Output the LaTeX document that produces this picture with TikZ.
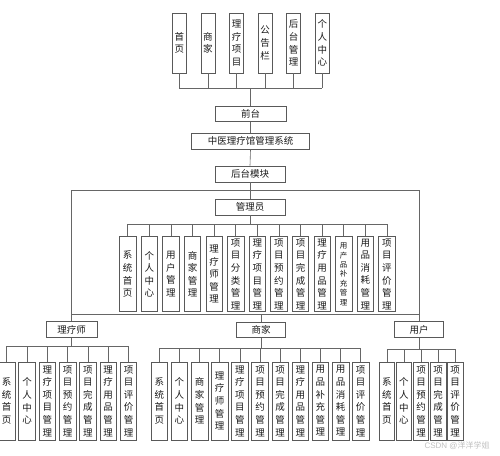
\documentclass[tikz,border=0pt]{standalone}
\usepackage{fontspec}
\setmainfont{Liberation Sans}
\newfontfamily\cjk{Noto Sans CJK SC}

\tikzset{
	box/.style={draw=black!65, line width=0.6pt, align=center, inner sep=0pt},
	topbox/.style={box, minimum width=14pt, minimum height=60pt},
	hbox/.style={box, minimum width=50pt, minimum height=15.5pt},
	adminbox/.style={box, minimum width=16.5pt, minimum height=75pt},
	leafbox/.style={box, minimum width=16.5pt, minimum height=78pt},
	link/.style={draw=black!60, line width=0.6pt}
}
\newcommand\bigcjk{\cjk\fontsize{9.5}{12.6}\selectfont}
\newcommand\smallcjk{\cjk\fontsize{7.5}{9.4}\selectfont}

\begin{document}
\begin{tikzpicture}[x=1pt, y=-1pt,
		every node/.style={font=\bigcjk, text=black!90}]
	\useasboundingbox (0,0) rectangle (500,455);

	% front end
	\coordinate (tbus) at (250,88);
	\foreach \txt [count=\i] in {{首\\页},{商\\家},{理\\疗\\项\\目},{公\\告\\栏},{后\\台\\管\\理},{个\\人\\中\\心}}
		\node [topbox] (t\i) at ({179.3+28.6*(\i-1)},43) {\txt};
	\node [hbox, minimum width=71pt] (qiantai) at (250.5,114) {前台};
	\foreach \i in {1,...,6}
		\draw [link] (t\i.south) -- (t\i.south |- tbus);
	\draw [link] (t1.south |- tbus) -- (t6.south |- tbus);
	\draw [link] (qiantai.north) -- (qiantai.north |- tbus);

	% system and back end
	\node [hbox, minimum width=118pt, minimum height=16pt] (xitong) at (250.5,141.3) {中医理疗馆管理系统};
	\node [hbox, minimum width=70pt, minimum height=16pt] (houtai) at (250,174) {后台模块};
	\node [hbox, minimum width=70pt, minimum height=16pt] (admin) at (250,207) {管理员};
	\draw [link] (qiantai.south) -- (xitong.north);
	\draw [link] (xitong.south) -- (houtai.north);
	\draw [link] (houtai.south) -- (admin.north);

	% roles
	\node [hbox, minimum width=51pt] (liliao) at (71.5,329.5) {理疗师};
	\node [hbox, minimum width=49pt] (shangjia) at (261,330) {商家};
	\node [hbox, minimum width=49pt] (yonghu) at (419,329.5) {用户};
	\coordinate (bbus) at (250,190);
	\coordinate (mbus) at (250,314);
	\draw [link] (liliao.north) -- (liliao.north |- bbus) -- (yonghu.north |- bbus) -- (yonghu.north);
	\draw [link] (liliao.north |- mbus) -- (yonghu.north |- mbus);
	\draw [link] (shangjia.north) -- (shangjia.north |- mbus);

	% admin modules
	\coordinate (abus) at (250,224);
	\foreach \txt/\fnt [count=\i] in {{系\\统\\首\\页}/\bigcjk,{个\\人\\中\\心}/\bigcjk,{用\\户\\管\\理}/\bigcjk,
			{商\\家\\管\\理}/\bigcjk,{理\\疗\\师\\管\\理}/\bigcjk,{项\\目\\分\\类\\管\\理}/\bigcjk,
			{理\\疗\\项\\目\\管\\理}/\bigcjk,{项\\目\\预\\约\\管\\理}/\bigcjk,{项\\目\\完\\成\\管\\理}/\bigcjk,
			{理\\疗\\用\\品\\管\\理}/\bigcjk,{用\\产\\品\\补\\充\\管\\理}/\smallcjk,{用\\品\\消\\耗\\管\\理}/\bigcjk,
			{项\\目\\评\\价\\管\\理}/\bigcjk}
	{
		\node [adminbox, font=\fnt] (a\i) at ({127.7+21.6*(\i-1)},274.2) {\txt};
		\draw [link] (a\i.north) -- (a\i.north |- abus);
	}
	\draw [link] (a1.north |- abus) -- (a13.north |- abus);
	\draw [link] (admin.south) -- (admin.south |- abus);

	% therapist modules
	\coordinate (lbus) at (71,346);
	\foreach \txt [count=\i] in {{系\\统\\首\\页},{个\\人\\中\\心},{理\\疗\\项\\目\\管\\理},{项\\目\\预\\约\\管\\理},
			{项\\目\\完\\成\\管\\理},{理\\疗\\用\\品\\管\\理},{项\\目\\评\\价\\管\\理}}
	{
		\node [leafbox] (l\i) at ({6.7+20.3*(\i-1)},401) {\txt};
		\draw [link] (l\i.north) -- (l\i.north |- lbus);
	}
	\draw [link] (l1.north |- lbus) -- (l7.north |- lbus);
	\draw [link] (liliao.south) -- (liliao.south |- lbus);

	% merchant modules
	\coordinate (sbus) at (261,348);
	\foreach \txt [count=\i] in {{系\\统\\首\\页},{个\\人\\中\\心},{商\\家\\管\\理},{理\\疗\\师\\管\\理},{理\\疗\\项\\目\\管\\理},
			{项\\目\\预\\约\\管\\理},{项\\目\\完\\成\\管\\理},{理\\疗\\用\\品\\管\\理},{用\\品\\补\\充\\管\\理},
			{用\\品\\消\\耗\\管\\理},{项\\目\\评\\价\\管\\理}}
	{
		\node [leafbox] (s\i) at ({159.3+20.14*(\i-1)},401) {\txt};
		\draw [link] (s\i.north) -- (s\i.north |- sbus);
	}
	\draw [link] (s1.north |- sbus) -- (s11.north |- sbus);
	\draw [link] (shangjia.south) -- (shangjia.south |- sbus);

	% user modules
	\coordinate (ubus) at (419,349);
	\foreach \txt [count=\i] in {{系\\统\\首\\页},{个\\人\\中\\心},{项\\目\\预\\约\\管\\理},{项\\目\\完\\成\\管\\理},{项\\目\\评\\价\\管\\理}}
	{
		\node [leafbox, minimum width=15.5pt] (u\i) at ({386.8+17.1*(\i-1)},401) {\txt};
		\draw [link] (u\i.north) -- (u\i.north |- ubus);
	}
	\draw [link] (u1.north |- ubus) -- (u5.north |- ubus);
	\draw [link] (yonghu.south) -- (yonghu.south |- ubus);

	\node [font=\fontsize{8}{9}\selectfont, text=black!25] (mark) at (457,446) {CSDN @{\cjk 洋洋学姐}};
\end{tikzpicture}
\end{document}
